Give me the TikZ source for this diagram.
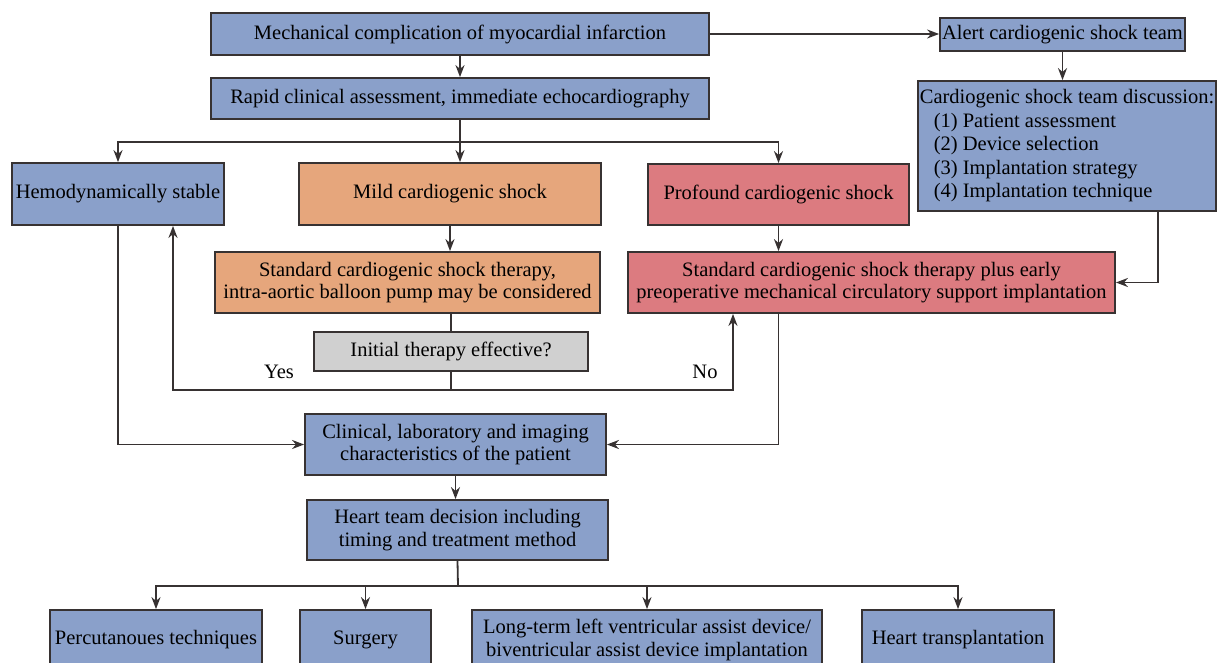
\documentclass[tikz,border=0pt]{standalone}
\usepackage{fontspec}
\setmainfont{Liberation Serif}
\usetikzlibrary{arrows.meta}
\definecolor{boxblue}{RGB}{138,160,202}
\definecolor{boxorange}{RGB}{230,166,124}
\definecolor{boxred}{RGB}{220,123,128}
\definecolor{boxgray}{RGB}{208,208,208}
\definecolor{edgegray}{RGB}{55,50,50}
\begin{document}
\begin{tikzpicture}[x=1pt, y=-1pt,
box/.style={rectangle, draw=edgegray, line width=1.8pt, inner sep=2pt, align=center, font=\fontsize{20.5}{22.5}\selectfont},
bluebox/.style={box, fill=boxblue},
orangebox/.style={box, fill=boxorange},
redbox/.style={box, fill=boxred},
graybox/.style={box, fill=boxgray},
lbl/.style={font=\fontsize{20.5}{22.5}\selectfont},
line/.style={draw=edgegray, line width=1.8pt},
arrow/.style={line, -{Stealth[length=12pt,width=9pt]}},
]
\path[use as bounding box, fill=white] (0,0) rectangle (1217,663);

% top
\node[bluebox, minimum width=498, minimum height=42] (mech) at (460,34) {Mechanical complication of myocardial infarction};
\node[bluebox, minimum width=498, minimum height=41] (rapid) at (460,98.5) {Rapid clinical assessment, immediate echocardiography};
\node[bluebox, minimum width=245, minimum height=33, inner sep=1pt] (alert) at (1062.5,34.5) {Alert cardiogenic shock team};
\node[bluebox, minimum width=298, minimum height=130, inner xsep=1pt, align=left,
      font=\fontsize{20.5}{23.5}\selectfont] (disc) at (1067,146) {Cardiogenic shock team discussion:\\
    \hspace*{14pt}(1) Patient assessment\\
    \hspace*{14pt}(2) Device selection\\
    \hspace*{14pt}(3) Implantation strategy\\
    \hspace*{14pt}(4) Implantation technique};

% severity
\node[bluebox, minimum width=212, minimum height=62] (hemo) at (118,194) {Hemodynamically stable};
\node[orangebox, minimum width=302, minimum height=62] (mild) at (450,194) {Mild cardiogenic shock};
\node[redbox, minimum width=261, minimum height=61] (prof) at (778.5,194.5) {Profound cardiogenic shock};
\node[orangebox, minimum width=385, minimum height=61] (ostd) at (407.5,282.5) {Standard cardiogenic shock therapy,\\intra-aortic balloon pump may be considered};
\node[redbox, minimum width=487, minimum height=61] (rstd) at (871.5,282.5) {Standard cardiogenic shock therapy plus early\\preoperative mechanical circulatory support implantation};
\node[graybox, minimum width=274, minimum height=39] (check) at (451,351.5) {Initial therapy effective?};
\node[lbl] (yes) at (279,372) {Yes};
\node[lbl] (no) at (705,372) {No};

% decision
\node[bluebox, minimum width=301, minimum height=61] (clin) at (455.5,444.5) {Clinical, laboratory and imaging\\characteristics of the patient};
\node[bluebox, minimum width=301, minimum height=60] (heart) at (457.5,530) {Heart team decision including\\timing and treatment method};

% treatments
\node[bluebox, minimum width=212, minimum height=60] (perc) at (156,640) {Percutanoues techniques};
\node[bluebox, minimum width=131, minimum height=60] (surg) at (365.5,640) {Surgery};
\node[bluebox, minimum width=350, minimum height=60] (lvad) at (647,640) {Long-term left ventricular assist device/\\biventricular assist device implantation};
\node[bluebox, minimum width=192, minimum height=60] (htx) at (958,640) {Heart transplantation};

% connectors
\coordinate (split) at (460,142);
\coordinate (yesturn) at (173,390);
\coordinate (noturn) at (733,390);
\coordinate (split2) at (458,586);

\draw[arrow] (mech.east) -- (mech.east -| alert.west);
\draw[arrow] (mech) -- (rapid);
\draw[arrow] (alert) -- (alert |- disc.north);
\draw[arrow] (rapid.south) -- (rapid.south |- mild.north);
\draw[arrow] (split) -| (hemo.north);
\draw[arrow] (split) -| (prof.north);
\draw[arrow] (mild.south) -- (mild.south |- ostd.north);
\draw[line] (check.north |- ostd.south) -- (check.north);
\draw[arrow] (check.south) -- (check.south |- yesturn) -- (yesturn) -- (yesturn |- hemo.south);
\draw[arrow] (check.south |- noturn) -- (noturn) -- (noturn |- rstd.south);
\draw[arrow] (prof.south) -- (prof.south |- rstd.north);
\draw[arrow] ([xshift=91pt]disc.south) |- (rstd.east);
\draw[arrow] (hemo.south) |- (clin.west);
\draw[arrow] (rstd.south -| prof.south) |- (clin.east);
\draw[arrow] (clin.south) -- (clin.south |- heart.north);
\draw[line] (heart.south) -- (split2);
\foreach \n in {perc,surg,lvad,htx}
    \draw[arrow] (split2) -| (\n.north);
\end{tikzpicture}
\end{document}
